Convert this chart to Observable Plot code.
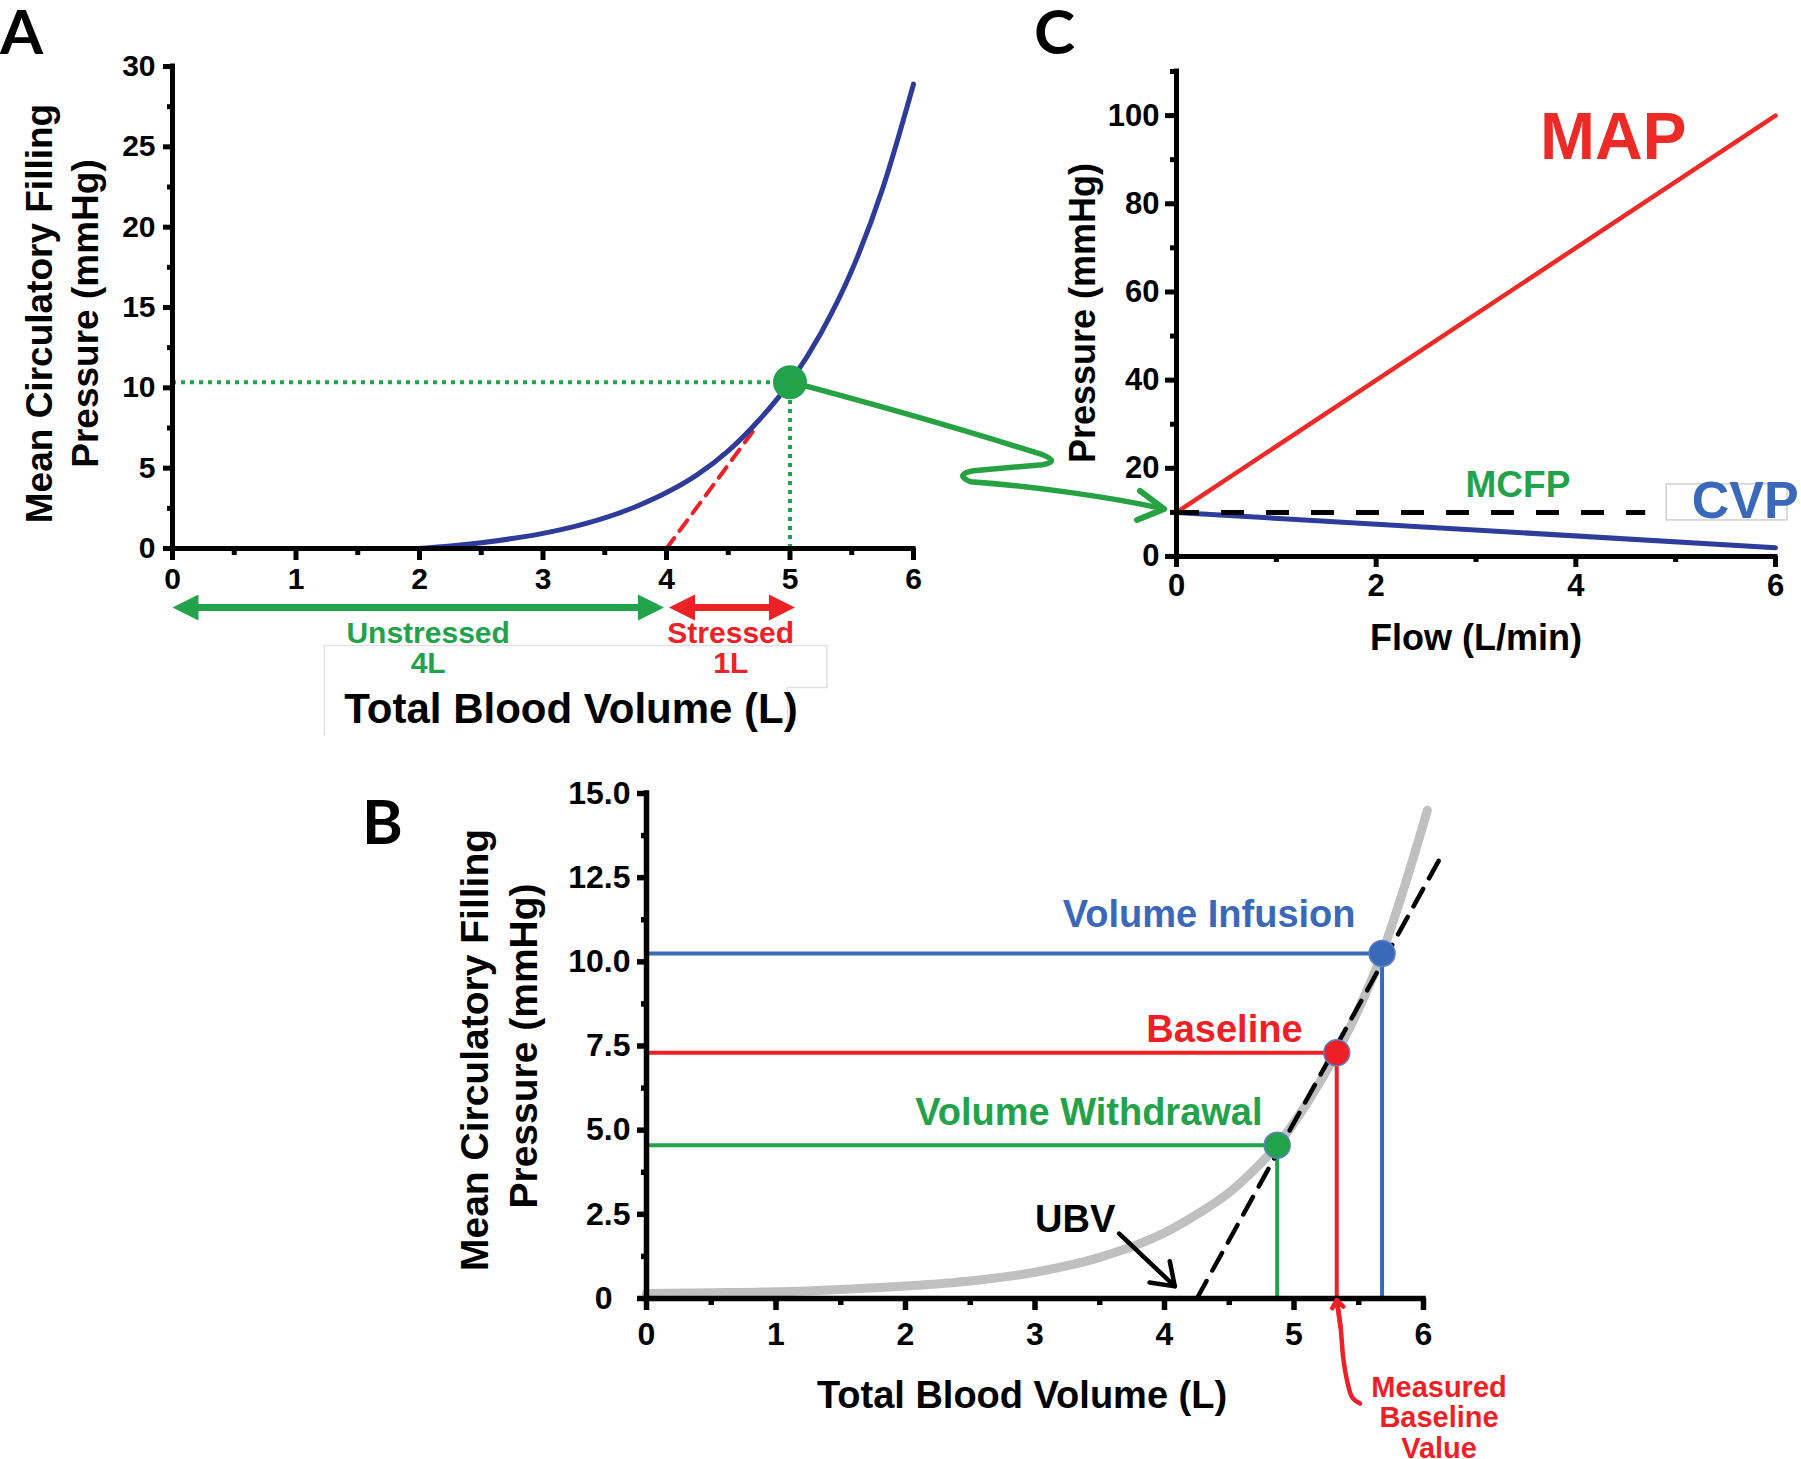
<!DOCTYPE html>
<html>
<head>
<meta charset="utf-8">
<script src="https://cdn.jsdelivr.net/npm/d3@7"></script>
<script src="https://cdn.jsdelivr.net/npm/@observablehq/plot@0.6"></script>
<style>
html,body{margin:0;padding:0;background:#fff;}
#root{position:relative;width:1801px;height:1459px;overflow:hidden;background:#fff;}
.panel{position:absolute;}
.panel svg{max-width:none !important;overflow:visible;}
#overlay{position:absolute;left:0;top:0;pointer-events:none;overflow:visible;}
</style>
</head>
<body>
<div id="root">
  <div class="panel" id="panelA" style="left:0;top:0;width:940px;height:740px"></div>
  <div class="panel" id="panelC" style="left:950px;top:0;width:851px;height:700px"></div>
  <div class="panel" id="panelB" style="left:400px;top:740px;width:1100px;height:719px"></div>
</div>
<script>
// ---------------- DATA ----------------
// Panel A: volume–pressure curve
const aVolume   = [2, 2.25, 2.5, 2.75, 3, 3.25, 3.5, 3.75, 4, 4.25, 4.5, 4.75, 5, 5.25, 5.5, 5.75, 6];
const aPressure = [0, 0.15, 0.36, 0.62, 0.94, 1.36, 1.9, 2.6, 3.48, 4.6, 6.08, 8.0, 10.35, 13.4, 17.3, 22.4, 28.9];
const aStateVolume = [5];
const aStatePressure = [10.35];
const aTangentVolume = [4, 4.72];
const aTangentPressure = [0, 7.5];
const aXTicks = [0, 1, 2, 3, 4, 5, 6];
const aXMinor = [0.5, 1.5, 2.5, 3.5, 4.5, 5.5];
const aYTicks = [0, 5, 10, 15, 20, 25, 30];
const aYMinor = [2.5, 7.5, 12.5, 17.5, 22.5, 27.5];
const aRangeNames = ["Unstressed", "Stressed"];
const aRangeAmounts = ["4L", "1L"];
const aRangeStart = [0, 4.02];
const aRangeEnd = [3.98, 5.04];
const aRangeLabelAt = [2.07, 4.52];
const aFrameVolume = [1.23, 1.23, 5.30, 5.30, 4.98, 4.98];
const aFramePressure = [-11.6, -6.04, -6.04, -8.65, -8.65, -11.6];

// Panel C: pressure–flow
const cFlow = [0, 6];
const cMAP = [10, 100];
const cCVP = [10, 2];
const cMCFP = 10;
const cMCFPExtent = [0, 4.7];
const cXTicks = [0, 2, 4, 6];
const cXMinor = [1, 3, 5];
const cYTicks = [0, 20, 40, 60, 80, 100];
const cYMinor = [10, 30, 50, 70, 90, 110];

// Panel B: volume–pressure curve with three states
const bCurveVolume   = [0, 0.5, 1, 1.5, 2, 2.5, 3, 3.5, 4, 4.25, 4.5, 4.7, 4.87, 5.1, 5.33, 5.5, 5.68, 5.85, 6.03];
const bCurvePressure = [0.15, 0.17, 0.2, 0.27, 0.37, 0.52, 0.78, 1.22, 1.95, 2.5, 3.15, 3.85, 4.55, 5.8, 7.3, 8.6, 10.25, 12.2, 14.5];
const bStates = ["Volume Withdrawal", "Baseline", "Volume Infusion"];
const bStateVolume = [4.87, 5.33, 5.68];
const bStatePressure = [4.55, 7.3, 10.25];
const bStateLabelVolume = [4.757, 5.066, 5.475];
const bStateLabelPressure = [5.52, 7.99, 11.4];
const bTangentVolume = [4.25, 6.16];
const bTangentPressure = [0, 13.3];
const bUbvFrom = [3.65, 1.93];
const bUbvTo = [4.08, 0.36];
const bUbvLabelAt = [3.31, 2.35];
const bMeasuredVolume = [5.33, 5.36, 5.38, 5.41, 5.45, 5.51];
const bMeasuredPressure = [-0.05, -0.86, -1.75, -2.44, -2.94, -3.12];
const bMeasuredLines = ["Measured", "Baseline", "Value"];
const bXTicks = [0, 1, 2, 3, 4, 5, 6];
const bXMinor = [0.5, 1.5, 2.5, 3.5, 4.5, 5.5];
const bYTicks = [0, 2.5, 5, 7.5, 10, 12.5, 15];
const bYMinor = [1.25, 3.75, 6.25, 8.75, 11.25, 13.75];

// ---------------- STYLE ----------------
const FONT = "'Liberation Sans', Arial, Helvetica, sans-serif";
const A_BLUE = "#2e3b98", GREEN = "#22a24a", RED = "#ec2227";
const C_RED = "#ee2a26", C_BLUE = "#2f3d9a", C_BLUE_TEXT = "#3a68ba";
const B_COLORS = ["#22a34a", "#ee1f26", "#3b69b9"];
const B_GRAY = "#c0c0c0";

function tri(direction) { // arrowhead with its tip at the anchor point
  return {draw(ctx) { const L = 26, h = 13; ctx.moveTo(0, 0); ctx.lineTo(-direction * L, -h); ctx.lineTo(-direction * L, h); ctx.closePath(); }};
}

function axisMarks(o) {
  const lw = o.lineWidth;
  const fmtY = o.yFormat || (d => String(d));
  const marks = [
    Plot.ruleX(o.xMinor, {x: d => d, y1: 0, y2: 0, insetBottom: -o.xMinorLen, strokeWidth: lw}),
    Plot.ruleX(o.xMajor, {x: d => d, y1: 0, y2: 0, insetBottom: -o.xMajorLen, strokeWidth: lw}),
    Plot.ruleY(o.yMinor, {y: d => d, x1: 0, x2: 0, insetLeft: -o.yMinorLen, strokeWidth: lw}),
    Plot.ruleY(o.yMajor, {y: d => d, x1: 0, x2: 0, insetLeft: -o.yMajorLen, strokeWidth: lw}),
    Plot.ruleY([0], {strokeWidth: lw, insetLeft: -lw / 2, insetRight: -lw / 2}),
    Plot.ruleX([0], {strokeWidth: lw, insetBottom: -lw / 2, insetTop: -lw / 2}),
    Plot.text(o.xMajor, {x: d => d, y: 0, text: d => String(d), dy: o.xLabelDy, fontSize: o.fontSize, fontWeight: "bold"}),
  ];
  if (o.yZeroDx != null) {
    marks.push(Plot.text(o.yMajor.filter(d => d !== 0), {x: 0, y: d => d, text: fmtY, textAnchor: "end", dx: -o.yLabelDx, fontSize: o.fontSize, fontWeight: "bold"}));
    marks.push(Plot.text([0], {x: 0, y: 0, text: fmtY, textAnchor: "end", dx: -o.yZeroDx, fontSize: o.fontSize, fontWeight: "bold"}));
  } else {
    marks.push(Plot.text(o.yMajor, {x: 0, y: d => d, text: fmtY, textAnchor: "end", dx: -o.yLabelDx, fontSize: o.fontSize, fontWeight: "bold"}));
  }
  return marks;
}

// ---------------- PANEL A ----------------
const A_RANGE_Y = -3.67, A_NAME_Y = -5.29, A_AMOUNT_Y = -7.16;
const aRangeColors = [GREEN, RED];
const plotA = Plot.plot({
  width: 940, height: 740,
  marginLeft: 172, marginRight: 27, marginTop: 66, marginBottom: 192,
  x: {domain: [0, 6], axis: null},
  y: {domain: [0, 30], axis: null},
  style: {fontFamily: FONT, background: "transparent", overflow: "visible"},
  marks: [
    Plot.line(aFrameVolume, {x: aFrameVolume, y: aFramePressure, stroke: "#e2e2e2", strokeWidth: 1.5}),
    Plot.ruleY(aStatePressure, {y: d => d, x1: 0, x2: aStateVolume, stroke: GREEN, strokeWidth: 4, strokeDasharray: "4 5"}),
    Plot.ruleX(aStateVolume, {x: d => d, y1: 0, y2: aStatePressure, stroke: GREEN, strokeWidth: 4, strokeDasharray: "4 5"}),
    Plot.line(aTangentVolume, {x: aTangentVolume, y: aTangentPressure, stroke: RED, strokeWidth: 4, strokeDasharray: "13 9"}),
    Plot.line(aVolume, {x: aVolume, y: aPressure, curve: "monotone-x", stroke: A_BLUE, strokeWidth: 5}),
    ...axisMarks({lineWidth: 5, xMajor: aXTicks, xMinor: aXMinor, yMajor: aYTicks, yMinor: aYMinor,
      xMajorLen: 12, xMinorLen: 7, yMajorLen: 9, yMinorLen: 5, xLabelDy: 31, yLabelDx: 17, fontSize: 30}),
    Plot.dot(aStateVolume, {x: aStateVolume, y: aStatePressure, r: 17, fill: GREEN, stroke: "none"}),
    ...aRangeNames.flatMap((name, i) => [
      Plot.ruleY([A_RANGE_Y], {x1: aRangeStart[i], x2: aRangeEnd[i], stroke: aRangeColors[i], strokeWidth: 7, insetLeft: 20, insetRight: 20}),
      Plot.dot([aRangeStart[i]], {x: d => d, y: A_RANGE_Y, symbol: tri(-1), r: 10, fill: aRangeColors[i], stroke: "none"}),
      Plot.dot([aRangeEnd[i]], {x: d => d, y: A_RANGE_Y, symbol: tri(1), r: 10, fill: aRangeColors[i], stroke: "none"}),
      Plot.text([name], {x: aRangeLabelAt[i], y: A_NAME_Y, fill: aRangeColors[i], fontSize: 30, fontWeight: "bold"}),
      Plot.text([aRangeAmounts[i]], {x: aRangeLabelAt[i], y: A_AMOUNT_Y, fill: aRangeColors[i], fontSize: 30, fontWeight: "bold"})
    ]),
    Plot.text(["Mean Circulatory Filling"], {frameAnchor: "left", textAnchor: "middle", lineAnchor: "middle", rotate: -90, dx: -132, dy: 6, fontSize: 37, fontWeight: "bold"}),
    Plot.text(["Pressure (mmHg)"], {frameAnchor: "left", textAnchor: "middle", lineAnchor: "middle", rotate: -90, dx: -86, dy: 6, fontSize: 37, fontWeight: "bold"}),
    Plot.text(["Total Blood Volume (L)"], {frameAnchor: "bottom", lineAnchor: "middle", dx: 28, dy: 161, fontSize: 42, fontWeight: "bold"})
  ]
});
document.getElementById("panelA").append(plotA);

// ---------------- PANEL C ----------------
const plotC = Plot.plot({
  width: 851, height: 700,
  marginLeft: 226, marginRight: 26, marginTop: 71, marginBottom: 144,
  x: {domain: [0, 6], axis: null},
  y: {domain: [0, 110], axis: null},
  style: {fontFamily: FONT, background: "transparent", overflow: "visible"},
  marks: [
    Plot.rect([0], {x1: 4.91, x2: 6.12, y1: 8.18, y2: 16.35, fill: "none", stroke: "#cfcfcf", strokeWidth: 1.5}),
    Plot.line(cFlow, {x: cFlow, y: cMAP, stroke: C_RED, strokeWidth: 4.5}),
    Plot.line(cFlow, {x: cFlow, y: cCVP, stroke: C_BLUE, strokeWidth: 5}),
    Plot.ruleY([cMCFP], {x1: cMCFPExtent[0], x2: cMCFPExtent[1], stroke: "black", strokeWidth: 5, strokeDasharray: "23 22"}),
    ...axisMarks({lineWidth: 5, xMajor: cXTicks, xMinor: cXMinor, yMajor: cYTicks, yMinor: cYMinor,
      xMajorLen: 11, xMinorLen: 6, yMajorLen: 11, yMinorLen: 6, xLabelDy: 30, yLabelDx: 17, fontSize: 31}),
    Plot.text(["MAP"], {x: 5.11, y: 95.0, textAnchor: "end", fill: C_RED, fontSize: 66, fontWeight: "bold"}),
    Plot.text(["MCFP"], {x: 3.42, y: 16.1, fill: GREEN, fontSize: 37, fontWeight: "bold"}),
    Plot.text(["CVP"], {x: 5.16, y: 12.5, textAnchor: "start", fill: C_BLUE_TEXT, fontSize: 52, fontWeight: "bold"}),
    Plot.text(["Pressure (mmHg)"], {frameAnchor: "left", textAnchor: "middle", lineAnchor: "middle", rotate: -90, dx: -93, dy: -1, fontSize: 36, fontWeight: "bold"}),
    Plot.text(["Flow (L/min)"], {frameAnchor: "bottom", lineAnchor: "middle", dx: 0, dy: 82, fontSize: 36, fontWeight: "bold"})
  ]
});
document.getElementById("panelC").append(plotC);

// ---------------- PANEL B ----------------
const plotB = Plot.plot({
  width: 1100, height: 719,
  marginLeft: 246, marginRight: 77, marginTop: 53, marginBottom: 161,
  x: {domain: [0, 6], axis: null},
  y: {domain: [0, 15], axis: null},
  style: {fontFamily: FONT, background: "transparent", overflow: "visible"},
  marks: [
    Plot.line(bCurveVolume, {x: bCurveVolume, y: bCurvePressure, curve: "monotone-x", stroke: B_GRAY, strokeWidth: 9}),
    ...bStates.flatMap((s, i) => [
      Plot.ruleY([bStatePressure[i]], {y: d => d, x1: 0, x2: bStateVolume[i], stroke: B_COLORS[i], strokeWidth: 4}),
      Plot.ruleX([bStateVolume[i]], {x: d => d, y1: 0, y2: bStatePressure[i], stroke: B_COLORS[i], strokeWidth: 4})
    ]),
    Plot.line(bTangentVolume, {x: bTangentVolume, y: bTangentPressure, stroke: "black", strokeWidth: 4.5, strokeDasharray: "20 12"}),
    ...axisMarks({lineWidth: 5.5, xMajor: bXTicks, xMinor: bXMinor, yMajor: bYTicks, yMinor: bYMinor,
      xMajorLen: 12, xMinorLen: 7, yMajorLen: 9, yMinorLen: 5, xLabelDy: 36, yLabelDx: 16, yZeroDx: 34, fontSize: 32,
      yFormat: d => d === 0 ? "0" : d.toFixed(1)}),
    Plot.dot(bStates, {x: bStateVolume, y: bStatePressure, r: 13, fill: B_COLORS, stroke: "#5b80c9", strokeWidth: 1.5}),
    ...bStates.map((s, i) => Plot.text([s], {x: bStateLabelVolume[i], y: bStateLabelPressure[i], textAnchor: "end", fill: B_COLORS[i], fontSize: 38, fontWeight: "bold"})),
    Plot.text(["UBV"], {x: bUbvLabelAt[0], y: bUbvLabelAt[1], fontSize: 38, fontWeight: "bold"}),
    Plot.arrow([0], {x1: bUbvFrom[0], y1: bUbvFrom[1], x2: bUbvTo[0], y2: bUbvTo[1], stroke: "black", strokeWidth: 4.5, headLength: 22, headAngle: 70}),
    Plot.line(bMeasuredVolume, {x: bMeasuredVolume, y: bMeasuredPressure, curve: "catmull-rom", stroke: B_COLORS[1], strokeWidth: 4.5}),
    Plot.arrow([0], {x1: bMeasuredVolume[1], y1: bMeasuredPressure[1], x2: bMeasuredVolume[0], y2: bMeasuredPressure[0], stroke: B_COLORS[1], strokeWidth: 4.5, headLength: 22, headAngle: 75}),
    ...bMeasuredLines.map((t, i) => Plot.text([t], {x: 6.12, y: -2.64, dy: i * 30.5, fill: B_COLORS[1], fontSize: 29, fontWeight: "bold"})),
    Plot.text(["Mean Circulatory Filling"], {frameAnchor: "left", textAnchor: "middle", lineAnchor: "middle", rotate: -90, dx: -171, dy: 4, fontSize: 39, fontWeight: "bold"}),
    Plot.text(["Pressure (mmHg)"], {frameAnchor: "left", textAnchor: "middle", lineAnchor: "middle", rotate: -90, dx: -122, dy: 0, fontSize: 39, fontWeight: "bold"}),
    Plot.text(["Total Blood Volume (L)"], {frameAnchor: "bottom", lineAnchor: "middle", dx: -13, dy: 97, fontSize: 38, fontWeight: "bold"})
  ]
});
document.getElementById("panelB").append(plotB);

// ---------------- OVERLAY: panel letters and the A → C connector ----------------
const ax = plotA.scale("x"), ay = plotA.scale("y");
const cx = plotC.scale("x"), cy = plotC.scale("y");
const S = [ax.apply(aStateVolume[0]), ay.apply(aStatePressure[0])];
const E = [950 + cx.apply(0) - 12, cy.apply(cMCFP) - 3];
const svg = d3.select("#root").append("svg").attr("id", "overlay").attr("width", 1801).attr("height", 1459);
const p = (o, dx, dy) => `${o[0] + dx},${o[1] + dy}`;
const connector = `M${p(S,0,0)} Q${p(S,139,37)} ${p(S,253,73)} Q${p(S,271,80)} ${p(S,253,83)} L${p(S,184,89)} Q${p(S,164,93)} ${p(S,181,100)} C${p(E,-134,-23)} ${p(E,-54,-12)} ${p(E,0,0)}`;
svg.append("path").attr("d", connector).attr("fill", "none").attr("stroke", "#27a243").attr("stroke-width", 5.5).attr("stroke-linecap", "round").attr("stroke-linejoin", "round");
svg.append("path").attr("d", `M${p(E,-24,-18)} L${p(E,0,0)} L${p(E,-27,11)}`).attr("fill", "none").attr("stroke", "#27a243").attr("stroke-width", 6).attr("stroke-linecap", "round").attr("stroke-linejoin", "round");
const letters = [["A", 0, 54], ["C", 1034, 54], ["B", 362, 844]];
svg.selectAll("text.letter").data(letters).join("text").attr("class", "letter")
  .attr("x", d => d[1]).attr("y", d => d[2]).text(d => d[0])
  .attr("font-family", "Lato, 'Open Sans', sans-serif").attr("font-weight", 700).attr("font-size", 62).attr("fill", "#000");
</script>
</body>
</html>
